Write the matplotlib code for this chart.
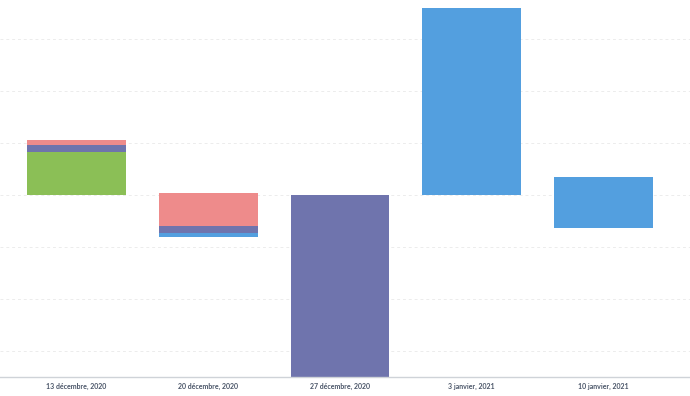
import numpy as np
import matplotlib.pyplot as plt

weeks = ['13 décembre, 2020', '20 décembre, 2020', '27 décembre, 2020',
         '3 janvier, 2021', '10 janvier, 2021']

# positive and negative parts per series (stacked separately)
green_pos = [8.2, 0, 0, 0, 0]
purple_pos = [1.5, 0, 0, 0, 0]
red_pos = [0.8, 0.4, 0, 0, 0]
blue_pos = [0, 0, 0, 36.0, 3.5]

red_neg = [0, -5.9, 0, 0, 0]
purple_neg = [0, -1.4, -40.0, 0, 0]
blue_neg = [0, -0.8, 0, 0, -6.4]

colors = {'green': '#8bbf56', 'purple': '#6f74ad', 'red': '#ee8b8b', 'blue': '#539fdf'}

fig = plt.figure(figsize=(6.9, 3.96), dpi=100)
ax = fig.add_axes([0, 19 / 396, 1, 377 / 396])

x = np.arange(len(weeks))
w = 0.75


def stack(series, ax):
    base = np.zeros(len(weeks))
    for name, vals in series:
        v = np.array(vals, dtype=float)
        keep = v != 0
        ax.bar(x[keep], v[keep], w, bottom=base[keep], color=colors[name],
               linewidth=0, zorder=3)
        base += v


stack([('green', green_pos), ('purple', purple_pos),
       ('red', red_pos), ('blue', blue_pos)], ax)
stack([('red', red_neg), ('purple', purple_neg), ('blue', blue_neg)], ax)

ax.set_xlim(-0.581, 4.657)
ax.set_ylim(-35, 37.5)
ax.set_yticks(np.arange(-30, 31, 10))
ax.yaxis.grid(True, color='#ececec', linestyle=(0, (3, 3)), linewidth=0.7, zorder=0)
ax.tick_params(axis='y', left=False, labelleft=False)
ax.tick_params(axis='x', length=0, pad=4)
ax.set_xticks(x)
ax.set_xticklabels(weeks, fontsize=5.0, fontweight='bold', color='#4a5568',
                   family=['Lato', 'DejaVu Sans'])

for s in ['top', 'left', 'right']:
    ax.spines[s].set_visible(False)
ax.spines['bottom'].set_color('#cfd3d8')
ax.spines['bottom'].set_linewidth(1.0)
ax.spines['bottom'].set_zorder(4)

fig.savefig('out.png', dpi=100)
